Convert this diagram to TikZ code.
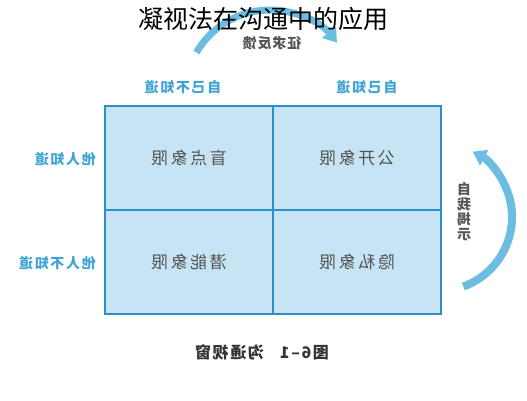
\documentclass[tikz,border=0pt]{standalone}
\usepackage{fontspec}
\usepackage{graphicx}
\setmainfont{Noto Sans CJK SC}
\usetikzlibrary{arrows.meta}

\definecolor{arcblue}{HTML}{6DBDE3}
\definecolor{gridblue}{HTML}{2A90C8}
\definecolor{cellblue}{HTML}{C6E4F4}
\definecolor{headblue}{HTML}{3FA3D5}
\definecolor{cellgray}{HTML}{555555}

\newcommand{\mirror}[1]{\reflectbox{#1}}

\begin{document}
\begin{tikzpicture}[x=1pt,y=-1pt]

	\tikzstyle quadrant=[draw=gridblue, fill=cellblue, line width=2.5pt, inner sep=0pt,
		minimum width=168pt, minimum height=104pt, text=cellgray,
		font=\fontsize{17}{17}\selectfont\addfontfeature{LetterSpace=15}];
	\tikzstyle head label=[text=headblue, inner sep=0pt,
		font=\bfseries\fontsize{14}{14}\selectfont\addfontfeature{LetterSpace=12}];
	\tikzstyle arc band=[draw=arcblue, line width=7pt, -{Triangle[width=17pt,length=13pt]}];
	\tikzstyle dark label=[text=cellgray, font=\bfseries\fontsize{14}{14}\selectfont, inner sep=0pt];

	\useasboundingbox (0,0) rectangle (527,400);

	% arcs
	\draw[arc band] (270,95) ++(-150:85) arc (-150:-38:85);
	\draw[arc band, line width=8pt] (438,217) ++(70:74) arc (70:-62:74);

	\node (title) at (263,19) {\fontsize{25}{25}\selectfont 凝视法在沟通中的应用};
	\node[dark label, font=\bfseries\fontsize{14}{14}\selectfont\addfontfeature{LetterSpace=6}]
		(feedback) at (272,43) {\mirror{征求反馈}};

	% quadrants
	\node[quadrant] (blind) at (189,158) {\mirror{盲点象限}};
	\node[quadrant] (open) at (357,158) {\mirror{公开象限}};
	\node[quadrant] (unknown) at (189,262) {\mirror{潜能象限}};
	\node[quadrant] (hidden) at (357,262) {\mirror{隐私象限}};

	\foreach \n/\x/\t in {selfno/183/自己不知道, selfyes/367/自己知道}
		\node[head label] (\n) at (\x,87) {\mirror{\t}};
	\foreach \n/\y/\t in {othyes/159/他人知道, othno/263/他人不知道}
		\node[head label, anchor=east] (\n) at (96,\y) {\mirror{\t}};

	\node[dark label, align=center] (disclose) at (464,212)
		{\mirror{自}\\[1pt]\mirror{我}\\[1pt]\mirror{揭}\\[1pt]\mirror{示}};

	\node[dark label, text=black!80, font=\bfseries\fontsize{16}{16}\selectfont\addfontfeature{LetterSpace=10}]
		(caption) at (262,352) {\mirror{图6–1\hspace{16pt}沟通视窗}};

\end{tikzpicture}
\end{document}
